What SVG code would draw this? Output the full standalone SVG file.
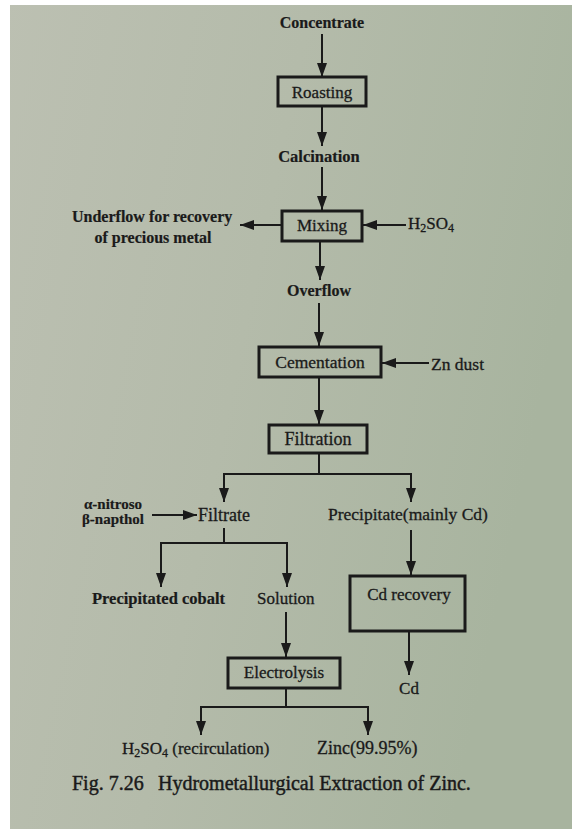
<svg xmlns="http://www.w3.org/2000/svg" width="572" height="829" viewBox="0 0 572 829">
<defs>
<linearGradient id="paper" x1="0" y1="0" x2="1" y2="0.3">
<stop offset="0" stop-color="#bcc0b2"/>
<stop offset="0.5" stop-color="#b4bbaa"/>
<stop offset="1" stop-color="#a8b49f"/>
</linearGradient>
<marker id="ah" viewBox="0 0 14 10" refX="14" refY="5" markerWidth="14" markerHeight="10" orient="auto" markerUnits="userSpaceOnUse">
<path d="M0,0 L14,5 L0,10 z" fill="#1a1a1a"/>
</marker>
<style>
.t{font-family:"Liberation Serif","Times New Roman",serif;font-size:17px;fill:#1a1a1a;stroke:#1a1a1a;stroke-width:0.3}
.b{font-weight:bold;font-size:16px;stroke-width:0.2}
.c{text-anchor:middle}
.box{fill:none;stroke:#1a1a1a;stroke-width:3}
.ln{fill:none;stroke:#1a1a1a;stroke-width:2}
.ar{marker-end:url(#ah)}
.cap{font-size:20px;stroke-width:0.45}
</style>
</defs>
<rect x="0" y="0" width="572" height="829" fill="url(#paper)"/>
<rect x="0" y="0" width="10" height="829" fill="#ffffff"/>
<rect x="0" y="0" width="572" height="5" fill="#ffffff"/>

<g id="connectors">
<line class="ln ar" x1="322" y1="34" x2="322" y2="77"/>
<line class="ln ar" x1="322" y1="106" x2="322" y2="146"/>
<line class="ln ar" x1="322" y1="167" x2="322" y2="210"/>
<line class="ln ar" x1="282" y1="225" x2="240" y2="225"/>
<line class="ln ar" x1="406" y1="225" x2="363" y2="225"/>
<line class="ln ar" x1="320" y1="241" x2="320" y2="280"/>
<line class="ln ar" x1="319" y1="303" x2="319" y2="346"/>
<line class="ln ar" x1="429" y1="363" x2="382" y2="363"/>
<line class="ln ar" x1="319" y1="377" x2="319" y2="424"/>
<polyline class="ln" points="319,453 319,474"/>
<polyline class="ln ar" points="319,474 224,474 224,502"/>
<polyline class="ln ar" points="319,474 411,474 411,502"/>
<line class="ln ar" x1="152" y1="515" x2="197" y2="515"/>
<polyline class="ln" points="224,528 224,543"/>
<polyline class="ln ar" points="224,543 161,543 161,587"/>
<polyline class="ln ar" points="224,543 287,543 287,587"/>
<line class="ln ar" x1="411" y1="530" x2="411" y2="575"/>
<line class="ln ar" x1="286" y1="612" x2="286" y2="657"/>
<line class="ln ar" x1="409" y1="631" x2="409" y2="675"/>
<polyline class="ln" points="286,688 286,707"/>
<polyline class="ln ar" points="286,707 201,707 201,735"/>
<polyline class="ln ar" points="286,707 368,707 368,735"/>
</g>

<g id="concentrate"><text class="t b c" x="322" y="28">Concentrate</text></g>
<g id="roasting"><rect class="box" x="278" y="77" width="88" height="29"/><text class="t c" x="322" y="98">Roasting</text></g>
<g id="calcination"><text class="t b c" x="319" y="162" style="font-size:16.5px">Calcination</text></g>
<g id="mixing"><rect class="box" x="282" y="211" width="80" height="30"/><text class="t c" x="322" y="231">Mixing</text></g>
<g id="underflow"><text class="t b" x="72" y="222">Underflow for recovery</text><text class="t b c" x="153" y="243">of precious metal</text></g>
<g id="h2so4-in"><text class="t" x="408" y="229">H<tspan dy="3" font-size="12">2</tspan><tspan dy="-3">SO</tspan><tspan dy="3" font-size="12">4</tspan></text></g>
<g id="overflow"><text class="t b c" x="319" y="296">Overflow</text></g>
<g id="cementation"><rect class="box" x="259" y="347" width="122" height="30"/><text class="t c" x="320" y="368" style="font-size:17.5px">Cementation</text></g>
<g id="zndust"><text class="t" x="431" y="370" style="font-size:17.5px">Zn dust</text></g>
<g id="filtration"><rect class="box" x="269" y="425" width="98" height="28"/><text class="t c" x="318" y="445" style="font-size:18px">Filtration</text></g>
<g id="nitroso"><text class="t b c" x="113" y="509" style="font-size:15px">α-nitroso</text><text class="t b c" x="113" y="524" style="font-size:15px">β-napthol</text></g>
<g id="filtrate"><text class="t" x="198" y="521" style="font-size:18px">Filtrate</text></g>
<g id="precipitate"><text class="t" x="328" y="520" style="font-size:17.5px">Precipitate(mainly Cd)</text></g>
<g id="cobalt"><text class="t b" x="92" y="604" style="font-size:16.5px">Precipitated cobalt</text></g>
<g id="solution"><text class="t" x="257" y="604">Solution</text></g>
<g id="cdrecovery"><rect class="box" x="350" y="576" width="115" height="55"/><text class="t c" x="409" y="600">Cd recovery</text></g>
<g id="cd"><text class="t c" x="409" y="694">Cd</text></g>
<g id="electrolysis"><rect class="box" x="228" y="658" width="112" height="30"/><text class="t c" x="284" y="678">Electrolysis</text></g>
<g id="h2so4-out"><text class="t" x="122" y="754">H<tspan dy="3" font-size="12">2</tspan><tspan dy="-3">SO</tspan><tspan dy="3" font-size="12">4</tspan><tspan dy="-3"> (recirculation)</tspan></text></g>
<g id="zinc"><text class="t" x="317" y="754" style="font-size:18px">Zinc(99.95%)</text></g>
<g id="caption"><text class="t cap" x="72" y="790">Fig. 7.26</text><text class="t cap" x="158" y="790">Hydrometallurgical Extraction of Zinc.</text></g>
</svg>
